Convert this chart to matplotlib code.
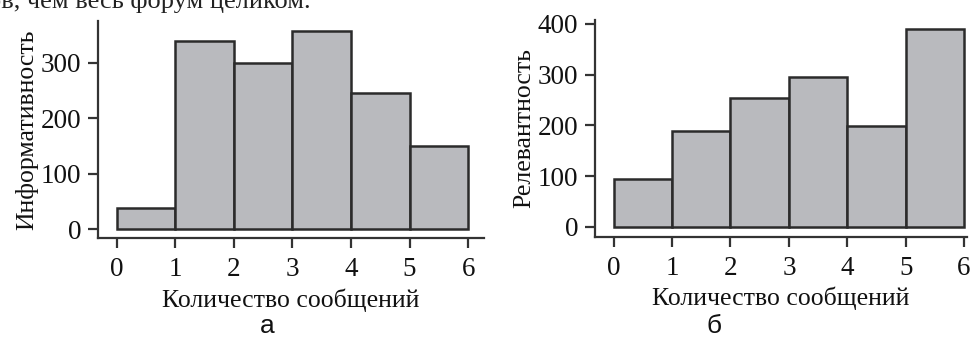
import matplotlib
matplotlib.use("Agg")
import matplotlib.pyplot as plt

# data
bins = [0, 1, 2, 3, 4, 5]
informativnost = [37, 339, 299, 357, 246, 150]
relevantnost = [94, 189, 253, 296, 199, 390]
xticks = [0, 1, 2, 3, 4, 5, 6]
yticks_a = [0, 100, 200, 300]
yticks_b = [0, 100, 200, 300, 400]

serif = "Liberation Serif"
sans = "Liberation Sans"
bar_color = "#b9babe"
edge = "#2b2b2b"

fig = plt.figure(figsize=(9.74, 3.4), dpi=100)

# clipped line of book text at the very top of the scan
fig.text(-12 / 974, 1 - 8 / 340, "ов, чем весь форум целиком.", family=serif,
         fontsize=19, color="#222222", va="baseline", ha="left")


def draw(ax, values, yticks, ylabel, xlim, ylim):
    ax.bar(bins, values, width=1, align="edge", color=bar_color,
           edgecolor=edge, linewidth=1.8)
    ax.set_xlim(*xlim)
    ax.set_ylim(*ylim)
    ax.set_xticks(xticks)
    ax.set_yticks(yticks)
    for s in ["top", "right"]:
        ax.spines[s].set_visible(False)
    for s in ["left", "bottom"]:
        ax.spines[s].set_linewidth(1.6)
        ax.spines[s].set_color("#333333")
    ax.tick_params(length=7, width=1.6, color="#333333", labelsize=19.5,
                   labelcolor="#111111")
    ax.tick_params(axis="y", pad=5)
    ax.tick_params(axis="x", pad=7)
    for lab in ax.get_xticklabels() + ax.get_yticklabels():
        lab.set_family(serif)
    ax.set_ylabel(ylabel, family=serif, fontsize=18.5, color="#111111", labelpad=2)
    ax.set_xlabel("Количество сообщений", family=serif, fontsize=18.5,
                  color="#111111", labelpad=4)


ax1 = fig.add_axes([98 / 974, 1 - 238 / 340, 386 / 974, 217 / 340])
draw(ax1, informativnost, yticks_a, "Информативность", (-0.32, 6.27), (-16.2, 375))

ax2 = fig.add_axes([595 / 974, 1 - 236.7 / 340, 372 / 974, 216.7 / 340])
draw(ax2, relevantnost, yticks_b, "Релевантность", (-0.32, 6.05), (-19.7, 407.7))

fig.text(267 / 974, 1 - 333 / 340, "а", family=sans, fontsize=19,
         ha="center", va="baseline", color="#111111")
fig.text(714 / 974, 1 - 333 / 340, "б", family=sans, fontsize=19,
         ha="center", va="baseline", color="#111111")

fig.savefig("out.png", dpi=100)
